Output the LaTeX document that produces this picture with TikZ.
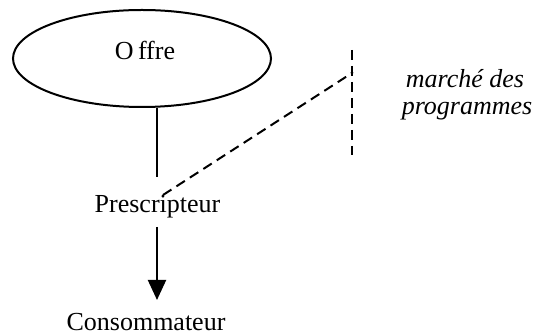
\documentclass[tikz,border=0pt]{standalone}
\usepackage{fontspec}
\setmainfont{Liberation Serif}
\usetikzlibrary{shapes.geometric,arrows.meta,calc}
\begin{document}
\begin{tikzpicture}[x=1pt,y=-1pt,
  lbl/.style={inner sep=0pt,anchor=base,font=\fontsize{26}{27}\selectfont},
  solidline/.style={line width=2pt},
  dashline/.style={line width=2pt,dash pattern=on 10pt off 6pt},
  ovalbox/.style={draw,ellipse,line width=2pt,minimum width=258pt,minimum height=97pt,inner sep=0pt}]
\useasboundingbox (0,0) rectangle (536,336);
\node[ovalbox] (offre) at (142,58.5) {};
\node[lbl] (offret) at (145,60) {O\,ffre};
\node[lbl] (presc) at (157.5,213) {Prescripteur};
\node[lbl] (conso) at (146,331) {Consommateur};
\node[lbl,font=\fontsize{26}{27}\selectfont\itshape] (mkt1) at (465,88) {marché des};
\node[lbl,font=\fontsize{26}{27}\selectfont\itshape] (mkt2) at (467,115) {programmes};
\coordinate (vtop) at (352,50);
\coordinate (vbot) at (352,155);
\coordinate (vmid) at (352,73);
\coordinate (dstart) at (163,195);
% connectors
\draw[solidline] (offre.south -| 157,0) -- (157,177);
\draw[solidline,-{Triangle[length=20pt,width=18pt]}] (157,227) -- (157,300);
\draw[dashline] (vtop) -- (vbot);
\draw[dashline] (dstart) -- (vmid);
\fill (vmid) circle (1.5pt);
\end{tikzpicture}
\end{document}
